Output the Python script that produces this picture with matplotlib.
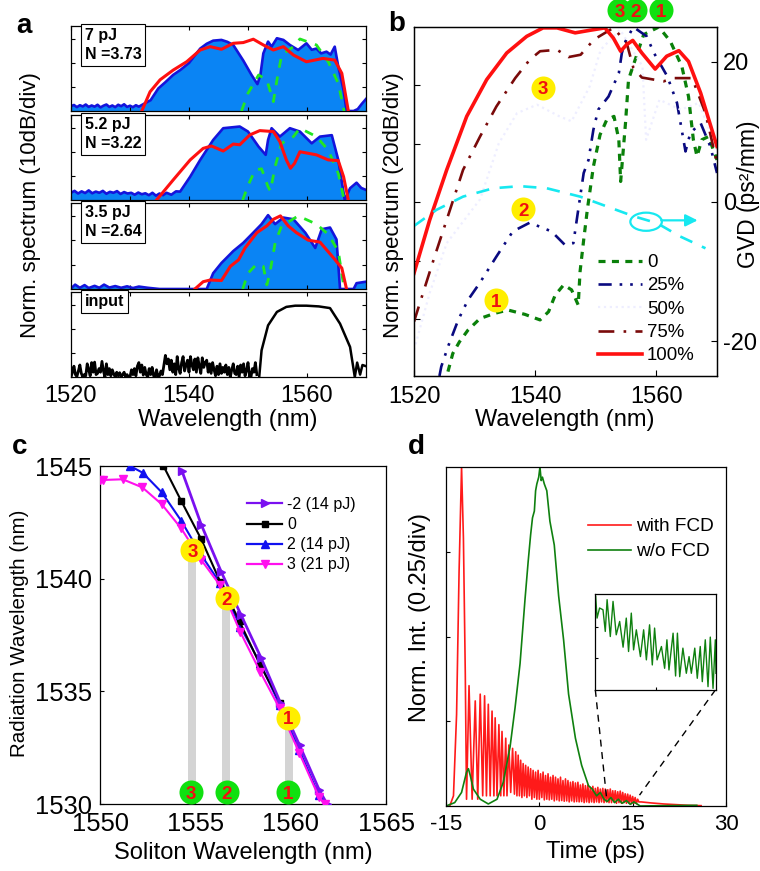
#!/usr/bin/env python3
"""Four panel soliton / radiation figure: spectra, GVD, tuning curves, time traces."""
import numpy as np
import matplotlib
matplotlib.use('Agg')
import matplotlib.pyplot as plt
from matplotlib.patches import Ellipse

plt.rcParams.update({'font.family': ['Liberation Sans', 'DejaVu Sans'],
                     'mathtext.default': 'regular', 'axes.linewidth': 0.9,
                     'axes.unicode_minus': False})

# ── Panel a: spectra, x in nm, y in divisions (10 dB/div) ──
a1_blue_wl = [1520,1520.5,1521,1521.5,1522,1522.5,1523,1523.5,1524,1524.5,1525,1525.5,1526,1526.5,1527,1527.5,1528,1528.5,1529,1529.5,1530,1530.5,1531,1531.5,1532,1533.5,1534.8,1536,1537.3,1538.6,1540,1541.9,1543,1544.1,1545.5,1546.5,1547.5,1549.2,1550.6,1551.6,1552.1,1552.6,1553.4,1554,1554.9,1556,1557.1,1558.5,1559.9,1560.8,1561.6,1562.4,1563.3,1564,1564.7,1565.3,1566.2,1566.7,1567.9,1568.6,1569.3,1570]
a1_blue_y = [0.2,0.25,0.16,0.24,0.19,0.27,0.17,0.23,0.18,0.26,0.15,0.22,0.27,0.17,0.23,0.16,0.26,0.2,0.28,0.17,0.22,0.16,0.24,0.18,0.25,0.45,0.94,1.2,1.5,1.72,2.0,2.6,2.8,2.93,2.96,2.88,2.75,2.1,1.5,1.12,1.5,2.4,2.89,2.68,3.03,2.96,2.75,2.54,2.82,2.55,2.6,2.4,2.47,2.35,2.68,1.85,0.87,0,0,0.08,0.3,0.5]
a1_red_wl = [1532,1533.4,1535.1,1537.3,1539.6,1541.9,1543.6,1545.5,1547.5,1549.2,1550.9,1552.6,1554.3,1556,1557.7,1559.9,1562.7,1564.7,1565.9,1567]
a1_red_y = [0,0.8,1.3,1.7,2.05,2.54,2.68,2.57,2.82,2.85,2.99,2.75,2.54,2.68,2.33,2.05,2.19,2.12,1.57,0]
a1_green_wl = [1548.9,1550,1551.8,1553.2,1554.3,1554.9,1555.7,1557.7,1558.8,1561.6,1563.6,1565.3,1566.3]
a1_green_y = [0,0.74,1.5,1.29,0.39,1.29,2.33,2.68,3.0,2.75,2.05,1.15,0]

a2_blue_wl = [1520,1520.6,1521.2,1521.8,1522.4,1523,1523.6,1524.2,1524.8,1525.4,1526,1526.6,1527.2,1527.8,1528.4,1529,1529.6,1530.2,1530.8,1531.4,1532,1532.6,1533.2,1533.8,1534.4,1535,1535.6,1536.2,1537,1537.8,1538.5,1540.2,1541.9,1544.1,1545.8,1548.6,1550,1551.8,1553,1553.4,1554,1555.4,1557.1,1558.8,1560.8,1562.2,1564.2,1565.3,1566.4,1567.3,1568.4,1569.2,1570]
a2_blue_y = [0.3,0.38,0.27,0.36,0.29,0.4,0.28,0.35,0.3,0.38,0.26,0.34,0.3,0.37,0.25,0.33,0.27,0.3,0.22,0.31,0.24,0.28,0.2,0.3,0.18,0.27,0.2,0.3,0.22,0.36,0.35,0.97,1.67,2.5,2.99,3.06,2.85,2.22,1.88,2.5,2.99,2.64,2.99,2.85,2.36,2.64,2.7,1.67,0,0.49,0.72,0.5,0.42]
a2_red_wl = [1534.5,1537.3,1540.2,1542.4,1543.8,1545.8,1547.5,1548.6,1550.3,1552,1554.3,1555.4,1556.5,1557.2,1557.9,1558.8,1561.6,1563.6,1565.3,1566.2,1567]
a2_red_y = [0,0.83,1.67,2.15,2.25,2.04,2.33,2.3,2.71,2.89,2.85,2.43,1.67,1.32,1.53,2.01,1.88,1.67,1.64,0.97,0]
a2_green_wl = [1549.1,1550,1551.2,1552.3,1553.4,1553.8,1554.6,1555.7,1557.7,1558.8,1561.6,1563.6,1565.3,1566.3]
a2_green_y = [0,0.6,1.25,1.3,0.55,0.37,1.4,2.36,2.64,2.99,2.64,2.08,1.11,0]

a3_blue_wl = [1520,1520.7,1521.5,1522.3,1523,1524,1524.8,1525.6,1526.5,1527.5,1528.5,1529.5,1530.5,1531.5,1533,1535,1543,1544.1,1545.5,1547.5,1549.2,1550.9,1552.3,1553.4,1554.6,1556,1557.7,1559.7,1561.4,1562.5,1563.9,1565,1565.6,1567.9,1568.4,1570]
a3_blue_y = [0.02,0.18,0.05,0.16,0.04,0.13,0.05,0.18,0.06,0.12,0.05,0.11,0.04,0.1,0.05,0,0,0.65,1.07,1.56,1.9,2.32,2.67,3.04,2.67,2.94,2.87,2.32,1.69,2.46,2.53,2.04,0,0,0.24,0.3]
a3_red_wl = [1541,1542.4,1543.6,1545.5,1547,1548.4,1549.5,1551.5,1553.2,1554.3,1555.5,1556.8,1558.2,1560.2,1562.2,1564.5,1565.9,1566.7]
a3_red_y = [0,0.3,0.37,0.35,0.93,1.2,1.69,2.32,2.6,2.87,3.01,2.6,2.32,2.01,1.93,1.28,0.86,0]
a3_green_wl = [1549.1,1550,1551.5,1552.6,1553.2,1553.7,1554.6,1555.7,1557.1,1558.5,1561.6,1563.6,1565.3,1566.3]
a3_green_y = [0,0.65,1.03,0.93,0.17,0.65,1.9,2.6,2.8,3.01,2.67,2.25,1.56,0]

input_noise_wl = [1520,1520.25,1520.5,1520.75,1521,1521.25,1521.5,1521.75,1522,1522.25,1522.5,1522.75,1523,1523.25,1523.5,1523.75,1524,1524.25,1524.5,1524.75,1525,1525.25,1525.5,1525.75,1526,1526.25,1526.5,1526.75,1527,1527.25,1527.5,1527.75,1528,1528.25,1528.5,1528.75,1529,1529.25,1529.5,1529.75,1530,1530.25,1530.5,1530.75,1531,1531.25,1531.5,1531.75,1532,1532.25,1532.5,1532.75,1533,1533.25,1533.5,1533.75,1534,1534.25,1534.5,1534.75,1535,1535.25,1535.5,1535.75,1536,1536.25,1536.5,1536.75,1537,1537.25,1537.5,1537.75,1538,1538.25,1538.5,1538.75,1539,1539.25,1539.5,1539.75,1540,1540.25,1540.5,1540.75,1541,1541.25,1541.5,1541.75,1542,1542.25,1542.5,1542.75,1543,1543.25,1543.5,1543.75,1544,1544.25,1544.5,1544.75,1545,1545.25,1545.5,1545.75,1546,1546.25,1546.5,1546.75,1547,1547.25,1547.5,1547.75,1548,1548.25,1548.5,1548.75,1549,1549.25,1549.5,1549.75,1550,1550.25,1550.5,1550.75,1551,1551.25,1551.5]
input_noise_y = [0,0.2,0.45,0.1,0.02,0.25,0.5,0.15,0,0.1,0.05,0.55,0.3,0.05,0.6,0.2,0.62,0.1,0.15,0.35,0.2,0.65,0.25,0,0.55,0.1,0.35,0.05,0.3,0.12,0,0.2,0.05,0.18,0,0.1,0.2,0,0.1,0,0,0.3,0.1,0.35,0.05,0.45,0.6,0.2,0.5,0.08,0.4,0.1,0,0.35,0.1,0.4,0.05,0.02,0.3,0,0.05,0.25,0.1,0.5,0.9,0.55,0.75,0.3,0.7,0.2,0.55,0.1,0.85,0.35,0.15,0.6,0.85,0.25,0.5,0.7,0.2,0.85,0.5,0.3,0.75,0.2,0.8,0.45,0.15,0.8,0.4,0.6,0.7,0.2,0.55,0.15,0.6,0.3,0.05,0.45,0.1,0.55,0.15,0.4,0.2,0.5,0.1,0.4,0,0.3,0.55,0.15,0.1,0.45,0,0.5,0.2,0.55,0.05,0.25,0.6,0.1,0,0.35,0.2,0.6,0.1]
input_wl = [1551.9,1552.3,1553.4,1554.9,1556.5,1558,1559.9,1562,1563.9,1565.6,1567.3,1568.1,1568.5,1569,1569.4,1570]
input_y = [0,1.11,2.15,2.71,2.92,2.97,2.97,2.94,2.87,2.22,1.25,0,0.6,0.1,0.5,0.45]

a_labels = ['7 pJ\nN =3.73', '5.2 pJ\nN =3.22', '3.5 pJ\nN =2.64', 'input']

# ── Panel b: simulated spectra in dB, x in nm; GVD on the right axis ──
p0_wl = [1525.6,1526.4,1527.5,1528.9,1530.9,1533.4,1535.5,1538.3,1540.8,1542.2,1543.3,1544.7,1546,1547.1,1547.4,1548,1548.6,1549.6,1550.7,1551.8,1553,1553.8,1554.1,1554.9,1555.4,1556.5,1557.9,1560.4,1562.3,1564.2,1565.3,1566.1,1566.7,1567.5,1568.6,1570]
p0_db = [-118,-111.8,-107.8,-103.8,-99.8,-98,-96.9,-98.4,-100.3,-97.5,-91.8,-88.3,-90,-95.2,-83.8,-72.9,-62.6,-47.8,-36.9,-31.8,-30.6,-38.6,-52.9,-32.9,-18,-11.2,-2.6,0,-4.9,-13.5,-23.8,-38.6,-44.3,-38.6,-37.5,-45.5]
p25_wl = [1524.2,1524.5,1525.6,1527.3,1528.9,1530.8,1533.6,1536.3,1539.1,1542.7,1544.9,1546.3,1547.1,1548,1548.8,1549.6,1550.4,1552.1,1553.8,1554.3,1554.9,1556.2,1558.4,1559.6,1561.8,1563.4,1564.8,1565.6,1567.3,1568.9,1570]
p25_db = [-119.5,-116.3,-109.5,-100.3,-93.5,-87.8,-78.6,-70,-67,-70,-74.6,-74,-62.6,-50,-45.5,-35.2,-28.3,-23.8,-15.8,-8.9,-4.9,0,-3.2,-8.9,-16.9,-26,-42.6,-36.3,-32.9,-40.9,-50]
p50_wl = [1520,1522.6,1525.4,1530.9,1534,1537,1540.3,1544,1546,1549,1550.8,1554,1557.7,1558.3,1560.5,1564,1567,1570]
p50_db = [-110.6,-91,-74,-59,-39.8,-29.5,-26.6,-30.6,-32.3,-20.3,-7.8,-0.9,-13.5,-38.6,-24.9,-28.3,-26,-42]
p75_wl = [1520,1521.5,1523.4,1525.4,1528.1,1530.9,1533.6,1536.7,1539.1,1540.8,1543.6,1545.5,1547.5,1549.7,1552.9,1555.1,1556.2,1557.6,1561.2,1562.9,1565.9,1568.1,1570]
p75_db = [-100.9,-91,-78.6,-66,-48.9,-37.5,-27.2,-17.5,-11.2,-8.3,-7.8,-10.3,-9.5,-4.3,-0.3,-5.5,-14,-17.3,-18.6,-17.5,-17.5,-29.5,-46.6]
p100_wl = [1520,1522.6,1525.4,1528.7,1532,1535.3,1538.6,1541.3,1543.6,1546.6,1549.1,1551.5,1552.9,1554.1,1555.1,1556.1,1557.6,1559.8,1561.7,1563.7,1565.3,1567.3,1570]
p100_db = [-84.3,-66,-48.9,-30.6,-18,-8.9,-3.2,-0.3,-0.3,-2,-1.1,-0.3,-3.8,-8.3,-6,-4.6,-8.9,-14.4,-10,-8.1,-11.8,-22.6,-40.9]
gvd_wl = [1520,1523.7,1528.1,1533.1,1537.5,1541.9,1547.4,1551.8,1556.2,1560.1,1563.9,1568.1]
gvd = [-3.5,-1.2,0.7,1.9,2.2,1.9,0.7,-0.7,-2.1,-3.1,-5,-6.7]
b_labels = ['0', '25%', '50%', '75%', '100%']

# ── Panel c: radiation vs soliton wavelength ──
cm2_x = [1554.29,1555.31,1556.36,1557.39,1558.44,1559.46,1560.47,1561.51,1561.91]
cm2_y = [1544.8,1542.4,1540.3,1538.4,1536.5,1534.5,1532.6,1530.6,1530]
c0_x = [1553.33,1554.26,1555.31,1556.3,1557.32,1558.4,1559.46]
c0_y = [1545,1543.45,1541.75,1539.87,1538.1,1536.17,1534.5]
c2_x = [1551.58,1552.24,1553.24,1554.26,1555.31,1556.3,1557.36,1558.4,1559.42,1560.45,1561.47,1561.82]
c2_y = [1545,1544.7,1543.83,1542.57,1541.05,1539.8,1537.87,1536.25,1534.4,1532.4,1530.4,1530]
c3_x = [1550,1550.18,1551.19,1552.22,1553.24,1554.26,1555.31,1556.3,1557.36,1558.4,1559.42,1560.45,1561.47,1561.79]
c3_y = [1544.38,1544.38,1544.41,1544.05,1543.3,1542.23,1540.83,1539.7,1537.63,1535.87,1534.24,1532.27,1530.33,1530]
c_labels = ['-2 (14 pJ)', '0', '2 (14 pJ)', '3 (21 pJ)']
bar_left = [1554.62, 1556.41, 1559.72]
bar_right = [1555.04, 1556.83, 1560.14]
bar_top = [1541, 1538.75, 1533.4]

# ── Panel d: time traces ──
red_t = [-14.4,-13.8,-13.3,-12.9,-12.5,-12.2,-11.9,-11.7,-11.3,-10.8,-10.3,-9.9,-9.5,-9.1,-8.8,-8.5,-8.2,-7.9,-7.6,-7.3,-7.1,-6.8,-6.5,-6.2,-6.0,-5.7,-5.4,-5.2,-4.9,-4.6,-4.3,
         -4.0,-3.8,-3.6,-3.4,-3.2,-3.0,-2.8,-2.6,-2.4,-2.2,-2.0,-1.8,-1.6,-1.4,-1.2,-1.0,-0.8,-0.6,-0.4,-0.2,0.0,0.2,0.4,0.6,0.8,1.0,1.2,1.4,1.6,1.8,2.0,2.2,2.4,2.6,2.8,3.0,3.2,3.4,3.6,3.8,4.0,4.2,4.4,4.6,4.8,5.0,5.2,5.4,5.6,5.8,6.0,6.2,6.4,6.6,6.8,7.0,7.2,7.4,7.6,7.8,8.0,8.2,8.4,8.6,8.8,9.0,9.2,9.4,9.6,9.8,10.0,10.2,10.4,10.6,10.8,11.0,11.2,11.4,11.6,11.8,12.0,12.2,12.4,12.6,12.8,13.0,13.2,13.4,13.6,13.8,14.0,14.2,14.4,14.6,14.8,15.0,15.2,15.4,15.6,15.8,16.0,16.4,18,20,22,24,26]
red_y = [0,0.03,0.27,0.69,1.0,0.79,0.39,0.02,0.355,0.02,0.31,0.02,0.33,0.03,0.325,0.03,0.30,0.03,0.28,0.03,0.26,0.03,0.24,0.03,0.22,0.03,0.20,0.03,0.18,0.04,0.17,
         0.035,0.16,0.03,0.15,0.03,0.135,0.025,0.125,0.03,0.12,0.025,0.115,0.03,0.11,0.02,0.105,0.025,0.10,0.02,0.105,0.02,0.095,0.025,0.10,0.018,0.09,0.02,0.095,0.018,0.085,0.02,0.09,0.015,0.085,0.018,0.08,0.015,0.085,0.016,0.075,0.014,0.08,0.015,0.075,0.012,0.07,0.015,0.072,0.012,0.068,0.013,0.07,0.012,0.062,0.013,0.065,0.01,0.06,0.012,0.062,0.01,0.055,0.012,0.058,0.01,0.052,0.012,0.055,0.01,0.05,0.012,0.052,0.01,0.05,0.012,0.048,0.01,0.05,0.01,0.045,0.012,0.045,0.008,0.042,0.01,0.044,0.008,0.04,0.01,0.036,0.008,0.035,0.008,0.032,0.007,0.028,0.008,0.025,0.007,0.02,0.012,0.012,0.009,0.006,0.004,0.002,0.001]
green_t = [-15,-13.6,-12.5,-12.1,-11.7,-11.4,-11.1,-10.6,-9.5,-8.2,-6.8,-5.8,-4.7,-3.9,-3.1,-2.3,-1.8,-1.4,-1.1,-0.8,-0.6,-0.4,-0.1,0.1,0.3,0.5,0.8,1.2,1.7,2.4,3.1,3.9,4.7,5.8,6.8,7.9,8.5,9.2,9.8,10.4,10.9,11.5,12.1,12.7,13.3,14,14.6,15.2,16.2,20,25.3]
green_y = [0,0.01,0.04,0.07,0.1,0.11,0.09,0.05,0.02,0.006,0.02,0.07,0.175,0.29,0.42,0.61,0.72,0.8,0.85,0.87,0.93,0.95,0.97,1.0,0.96,0.97,0.95,0.93,0.84,0.77,0.62,0.49,0.33,0.2,0.12,0.06,0.05,0.03,0.04,0.02,0.013,0.025,0.01,0.02,0.008,0.016,0.005,0.012,0,0.001,0.002]
d_labels = ['with FCD', 'w/o FCD']
inset_t = [10.83,10.89,11.0,11.15,11.25,11.33,11.47,11.59,11.73,11.88,12.03,12.17,12.27,12.39,12.49,12.61,12.79,12.93,13.05,13.19,13.31,13.41,13.52,13.71,13.85,13.95,14.04,14.22,14.33,14.41,14.51,14.65,14.8,14.92,15.02,15.17,15.28,15.41,15.5,15.63,15.75,15.85,15.97,16.07,16.1]
inset_y = [0.976,0.749,0.854,0.836,0.61,0.941,0.557,0.923,0.575,0.714,0.446,0.749,0.401,0.801,0.418,0.627,0.348,0.627,0.314,0.679,0.261,0.645,0.314,0.453,0.226,0.523,0.209,0.592,0.146,0.592,0.139,0.436,0.174,0.348,0.174,0.436,0.122,0.453,0.087,0.523,0.035,0.551,0.017,0.523,0.174]

BLUE_FILL = '#0a84f4'
BLUE_LINE = '#1414dc'
RED = '#ff1010'
LIME = '#22e622'
CYAN = '#17e8f0'

fig = plt.figure(figsize=(7.6, 8.71), dpi=100)


def axpx(l, t, r, b):
    return fig.add_axes([l / 760, 1 - b / 871, (r - l) / 760, (b - t) / 871])


def figtext(x, y, s, **kw):
    kw.setdefault('ha', 'center')
    kw.setdefault('va', 'center')
    fig.text(x / 760, 1 - y / 871, s, **kw)


def badge(ax, x, y, num, face):
    ax.plot([x], [y], 'o', ms=17.3, mfc=face, mec='none', clip_on=False, zorder=20)
    ax.text(x, y, num, color='#f01010', fontsize=13.5, fontweight='bold', ha='center',
            va='center_baseline', clip_on=False, zorder=21)


# ── a ──
rows = [(26, 111), (115, 200), (203, 289), (292, 377)]
a_axes = [axpx(71, t, 366, b) for t, b in rows]
a_data = [(a1_blue_wl, a1_blue_y, a1_red_wl, a1_red_y, a1_green_wl, a1_green_y),
          (a2_blue_wl, a2_blue_y, a2_red_wl, a2_red_y, a2_green_wl, a2_green_y),
          (a3_blue_wl, a3_blue_y, a3_red_wl, a3_red_y, a3_green_wl, a3_green_y)]
for ax, d in zip(a_axes, a_data):
    ax.fill_between(d[0], 0, d[1], color=BLUE_FILL, lw=0, zorder=1)
    ax.plot(d[0], d[1], color=BLUE_LINE, lw=1.9, zorder=2)
    ax.plot(d[4], d[5], color=LIME, lw=2.0, dashes=(3.2, 3.2), zorder=3)
    ax.plot(d[2], d[3], color=RED, lw=2.2, zorder=4)
a_axes[3].plot(input_noise_wl, input_noise_y, color='k', lw=2.0)
a_axes[3].plot(input_wl, input_y, color='k', lw=1.8)
for i, ax in enumerate(a_axes):
    ax.set_xlim(1520, 1570)
    ax.set_ylim(0, 3.54)
    ax.set_xticks([1520, 1540, 1560])
    ax.set_xticks([1530, 1550], minor=True)
    ax.set_yticks([1, 2, 3])
    ax.tick_params(which='both', direction='in', top=True, right=True, length=3, width=0.8, labelleft=False,
                   labelbottom=(i == 3), labelsize=17, pad=6)
    ax.text(1522.3, 3.44, a_labels[i], fontsize=11.5, fontweight='bold', va='top', ha='left', linespacing=1.3,
            bbox=dict(boxstyle='square,pad=0.25', fc='w', ec='k', lw=0.8), zorder=10)
figtext(31, 205, 'Norm. spectrum (10dB/div)', rotation=90, fontsize=16)
figtext(228, 420, 'Wavelength (nm)', fontsize=17)
figtext(24, 26, 'a', fontsize=20, fontweight='bold')

# ── b ──
axb = axpx(414, 27, 717, 376)
axb.plot(p0_wl, p0_db, color='#0a800a', lw=2.3, dashes=(2.2, 2.0), label=b_labels[0])
axb.plot(p25_wl, p25_db, color='#0a0a80', lw=1.9, dashes=(5, 3, 1, 3, 1, 3), label=b_labels[1])
axb.plot(p50_wl, p50_db, color='#eeeeff', lw=1.6, ls=':', label=b_labels[2])
axb.plot(p75_wl, p75_db, color='#7a0a0a', lw=1.9, dashes=(6, 3.5, 1, 3.5), label=b_labels[3])
axb.plot(p100_wl, p100_db, color=RED, lw=2.6, label=b_labels[4])
axb.set_xlim(1520, 1570)
axb.set_ylim(-119.5, 0)
axb.set_xticks([1520, 1540, 1560])
axb.set_yticks([-20, -40, -60, -80, -100])
axb.tick_params(direction='in', length=4, labelleft=False, labelsize=17, pad=7)
axb2 = axb.twinx()
axb2.plot(gvd_wl, gvd, color=CYAN, lw=1.9, dashes=(5, 4))
axb2.set_ylim(-25, 25)
axb2.set_yticks([-20, 0, 20])
axb2.tick_params(direction='in', length=4.3, labelsize=17, pad=4.5)
axb2.add_patch(Ellipse((1558.3, -2.9), 5.2, 2.6, fill=False, ec=CYAN, lw=1.6))
axb2.annotate('', xy=(1566.8, -2.7), xytext=(1560.8, -2.7),
              arrowprops=dict(arrowstyle='-|>', color=CYAN, lw=1.6, mutation_scale=18, shrinkA=0, shrinkB=0))
for x, y, num in [(1541.3, -20.8, '3'), (1538, -62.4, '2'), (1533.5, -93.5, '1')]:
    badge(axb, x, y, num, '#ffee00')
for x, num in [(1553.9, '3'), (1556.5, '2'), (1560.8, '1')]:
    badge(axb, x, 5.7, num, '#10e010')
axb.legend(loc='upper left', bbox_to_anchor=(598 / 760, 1 - 254 / 871), bbox_transform=fig.transFigure, frameon=False,
           fontsize=13.4, handlelength=2.37, handletextpad=0.25, labelspacing=0.34, borderpad=0, borderaxespad=0)
figtext(393, 205, 'Norm. spectrum (20dB/div)', rotation=90, fontsize=16)
figtext(748, 194, 'GVD (ps\u00b2/mm)', rotation=90, fontsize=16.5)
figtext(565, 420, 'Wavelength (nm)', fontsize=17)
figtext(397, 24, 'b', fontsize=20, fontweight='bold')

# ── c ──
axc = axpx(100, 466, 386, 804)
for l, r, t in zip(bar_left, bar_right, bar_top):
    axc.fill_between([l, r], 1530.7, t, color='#d4d4d4', lw=0, zorder=1)
axc.plot(c2_x, c2_y, '-^', color='#1010f0', lw=1.5, ms=5.5, zorder=3)
axc.plot(c0_x, c0_y, '-s', color='k', lw=1.5, ms=4.5, zorder=4)
axc.plot(cm2_x, cm2_y, '->', color='#7a10f0', lw=2.0, ms=5.5, zorder=5)
axc.plot(c3_x, c3_y, '-v', color='#ff10ee', lw=1.5, ms=5.5, zorder=6)
handles = [axc.plot([], [], m, color=col, lw=1.6, ms=ms)[0]
           for m, col, ms in [('->', '#7a10f0', 5.5), ('-s', 'k', 4.5), ('-^', '#1010f0', 5.5), ('-v', '#ff10ee', 5.5)]]
axc.legend(handles, c_labels, loc='upper left', bbox_to_anchor=(247 / 760, 1 - 497 / 871), bbox_transform=fig.transFigure,
           frameon=False, fontsize=11.5, handlelength=2.2, handletextpad=0.3, labelspacing=0.32, borderpad=0, borderaxespad=0,
           numpoints=1)
axc.set_xlim(1550, 1565)
axc.set_ylim(1530, 1545)
axc.set_xticks([1550, 1555, 1560, 1565])
axc.set_yticks([1530, 1535, 1540, 1545])
axc.tick_params(direction='in', length=3, labelsize=18.4, pad=6)
for x, y, num in [(1554.85, 1541.27, '3'), (1556.65, 1539.13, '2'), (1559.86, 1533.83, '1')]:
    badge(axc, x, y, num, '#ffee00')
for x, num in [(1554.76, '3'), (1556.65, '2'), (1559.86, '1')]:
    badge(axc, x, 1530.52, num, '#10e010')
figtext(243, 853, 'Soliton Wavelength (nm)', fontsize=17)
figtext(20, 633, 'Radiation Wavelength (nm)', rotation=90, fontsize=14.8)
figtext(20, 447, 'c', fontsize=20, fontweight='bold')

# ── d ──
axd = axpx(446, 467, 726, 806)
axd.plot(red_t, red_y, color='#ff1a1a', lw=1.2, label=d_labels[0])
axd.plot(green_t, green_y, color='#0f800f', lw=1.2, label=d_labels[1])
axd.plot([9.0, 10.84], [0.3425, 0.018], 'k--', lw=1, dashes=(5, 4))
axd.plot([28.3, 16.1], [0.3425, 0.032], 'k--', lw=1, dashes=(5, 4))
axd.set_xlim(-15, 30)
axd.set_ylim(0, 1)
axd.set_xticks([-15, 0, 15, 30])
axd.set_yticks([0.25, 0.5, 0.75])
axd.tick_params(direction='in', length=3, labelleft=False, labelsize=16, pad=6)
axd.legend(loc='upper left', bbox_to_anchor=(588 / 760, 1 - 518 / 871), bbox_transform=fig.transFigure, frameon=False,
           fontsize=13.7, handlelength=2.26, handletextpad=0.26, labelspacing=0.4, borderpad=0, borderaxespad=0)
axi = axpx(595, 594, 716, 690)
axi.plot(inset_t, inset_y, color='#0f800f', lw=1.0)
axi.set_xlim(10.8, 16.1)
axi.set_ylim(0, 1)
axi.set_xticks([13.45])
axi.set_yticks([0.33, 0.66])
axi.tick_params(direction='in', length=2.5, labelleft=False, labelbottom=False)
figtext(596, 852, 'Time (ps)', fontsize=17)
figtext(420, 618, 'Norm. Int. (0.25/div)', rotation=90, fontsize=17)
figtext(416, 447, 'd', fontsize=20, fontweight='bold')

fig.savefig('out.png', dpi=100)
